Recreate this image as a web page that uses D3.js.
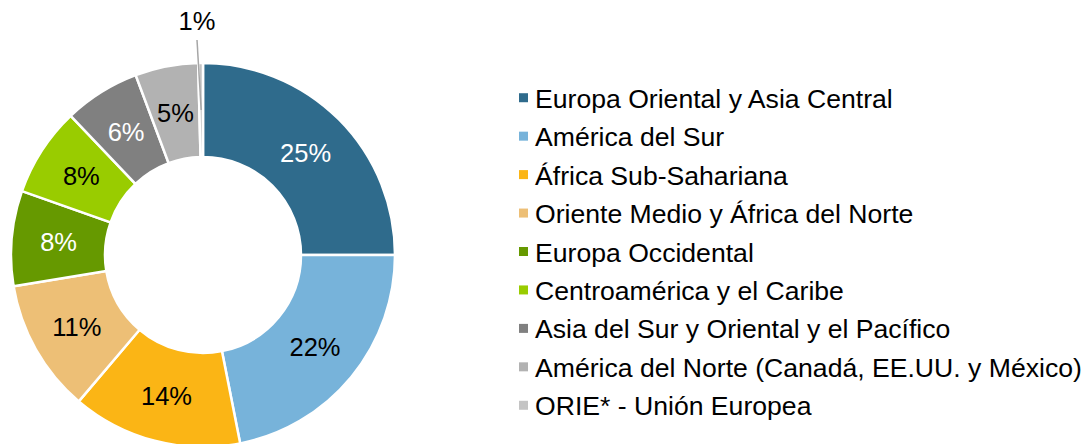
<!DOCTYPE html>
<html>
<head>
<meta charset="utf-8">
<script src="https://cdn.jsdelivr.net/npm/d3@7"></script>
<style>
  body { margin: 0; background: #fff; }
  text { font-family: "Liberation Sans", Arial, sans-serif; }
</style>
</head>
<body>
<svg id="chart" width="1090" height="444"></svg>
<script>
// regions, shares and the printed labels
var regions = ["Europa Oriental y Asia Central", "América del Sur", "África Sub-Sahariana",
  "Oriente Medio y África del Norte", "Europa Occidental", "Centroamérica y el Caribe",
  "Asia del Sur y Oriental y el Pacífico", "América del Norte (Canadá, EE.UU. y México)",
  "ORIE* - Unión Europea"];
var shares = [25.0, 21.9, 14.3, 11.2, 8.0, 7.5, 6.4, 5.3, 0.4];
var labels = ["25%", "22%", "14%", "11%", "8%", "8%", "6%", "5%", "1%"];
var colors = ["#2F6B8C", "#77B3DA", "#FBB515", "#EDBF76", "#669900", "#99CC00", "#808080", "#B2B2B2", "#C4C4C4"];
var labelColors = ["#fff", "#000", "#000", "#000", "#fff", "#000", "#fff", "#000", "#000"];

var svg = d3.select("#chart");
var cx = 203, cy = 255, rOut = 192, rIn = 98, rLab = 145;

var data = regions.map(function(r, i) {
  return {name: r, value: shares[i], label: labels[i], color: colors[i], tc: labelColors[i]};
});

var pie = d3.pie().sort(null).value(function(d) { return d.value; });
var arc = d3.arc().innerRadius(rIn).outerRadius(rOut);
var labArc = d3.arc().innerRadius(rLab).outerRadius(rLab);
var arcs = pie(data);

var g = svg.append("g").attr("transform", "translate(" + cx + "," + cy + ")");

g.selectAll("path").data(arcs).enter().append("path")
  .attr("d", arc)
  .attr("fill", function(d) { return d.data.color; })
  .attr("stroke", "#fff")
  .attr("stroke-width", 2.5);

// labels inside the ring, except the tiny last slice
g.selectAll("text.lab").data(arcs.slice(0, 8)).enter().append("text")
  .attr("class", "lab")
  .attr("transform", function(d) { return "translate(" + labArc.centroid(d) + ")"; })
  .attr("text-anchor", "middle")
  .attr("dy", "0.36em")
  .attr("font-size", 25.5)
  .attr("fill", function(d) { return d.data.tc; })
  .text(function(d) { return d.data.label; });

// the 1% slice gets a leader line and a label above the ring
var last = arcs[arcs.length - 1];
var p = labArc.centroid(last);
g.append("line")
  .attr("x1", p[0]).attr("y1", p[1])
  .attr("x2", -6).attr("y2", -215)
  .attr("stroke", "#A6A6A6")
  .attr("stroke-width", 1.5);
g.append("text")
  .attr("x", -6).attr("y", -225)
  .attr("text-anchor", "middle")
  .attr("font-size", 25.5)
  .attr("fill", "#000")
  .text(last.data.label);

// legend
var ly = d3.scaleBand().domain(regions).range([79, 425]);
var leg = svg.append("g").selectAll("g").data(data).enter().append("g")
  .attr("transform", function(d) { return "translate(519," + (ly(d.name) + ly.bandwidth() / 2) + ")"; });
leg.append("rect")
  .attr("x", 0).attr("y", -5)
  .attr("width", 9).attr("height", 9)
  .attr("fill", function(d) { return d.color; });
leg.append("text")
  .attr("x", 16)
  .attr("dy", "0.36em")
  .attr("font-size", 26.6)
  .attr("fill", "#000")
  .text(function(d) { return d.name; });
</script>
</body>
</html>
